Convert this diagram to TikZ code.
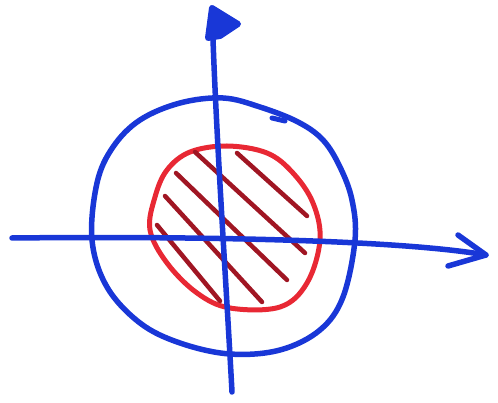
\documentclass[tikz,border=0pt]{standalone}
\usepackage{tikz}
\usepackage{xcolor}
\definecolor{penblue}{RGB}{25,55,215}
\definecolor{penred}{RGB}{232,40,52}
\definecolor{hatchred}{RGB}{160,22,35}

\begin{document}
\begin{tikzpicture}[x=1pt, y=-1pt, line cap=round, line join=round]
    \useasboundingbox (0,0) rectangle (498,403);
    % -------------------------
    % Red disc with hatching
    % -------------------------
    \draw[penred, line width=5pt] plot[smooth cycle, tension=0.6] coordinates {
        (227,146) (267,153) (293,173) (313,203) (320,240) (307,283) (280,307)
        (230,308) (197,293) (167,263) (150,230) (155,197) (167,170) (190,152)};
    % Hatch strokes
    \draw[hatchred, line width=4.5pt] (237,153) -- (307,216);
    \draw[hatchred, line width=4.5pt] (195,152) -- (305,253);
    \draw[hatchred, line width=4.5pt] (176,173) -- (287,280);
    \draw[hatchred, line width=4.5pt] (165,196) -- (262,302);
    \draw[hatchred, line width=4.5pt] (157,225) -- (220,301);

    % -------------------------
    % Blue circle
    % -------------------------
    \draw[penblue, line width=5.5pt] plot[smooth cycle, tension=0.6] coordinates {
        (223,98) (260,107) (298,122) (323,140) (340,167) (352,200) (355,240)
        (343,297) (320,330) (280,350) (230,354) (180,343) (140,323) (107,287)
        (92,240) (97,183) (113,147) (140,120) (180,103)};
    \draw[penblue, line width=5pt] (272,118) -- (285,121);

    % -------------------------
    % Axes
    % -------------------------
    \coordinate (xl) at (12,238);
    \coordinate (xr) at (486,255);
    \coordinate (yb) at (232,392);
    \coordinate (yt) at (212,8);
    \draw[penblue, line width=5.5pt] (xl) .. controls (200,236) and (400,240) .. (xr);
    \draw[penblue, line width=5.5pt] (458,235) -- (xr) -- (448,266);
    \draw[penblue, line width=5.5pt] (yb) .. controls (226,280) and (215,120) .. (yt);
    \draw[penblue, line width=6pt, fill=penblue] (208,38) -- (yt) -- (238,24) -- (220,36) -- cycle;
\end{tikzpicture}
\end{document}
